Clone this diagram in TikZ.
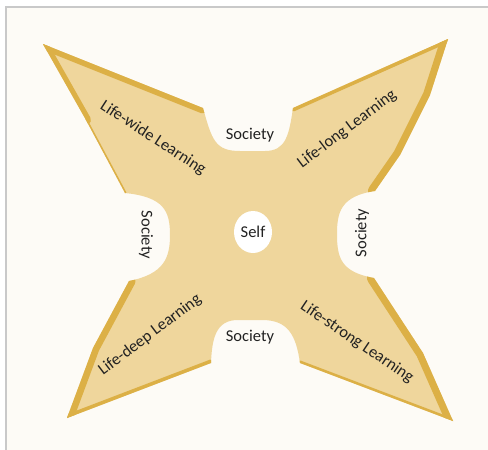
\documentclass[tikz,border=0pt]{standalone}
\usepackage{fontspec}
\setmainfont{Carlito}
\definecolor{cream}{HTML}{FDFBF6}
\definecolor{sand}{HTML}{EFD69C}
\definecolor{gold}{HTML}{DCB046}
\definecolor{rule}{HTML}{C9C9C9}
\definecolor{ink}{HTML}{222222}
% outline of the four-pointed star, in pixel units
\newcommand{\shuriken}{(43,44) -- (203,108)
  .. controls (212,140) and (215,151) .. (240,151) -- (265,151)
  .. controls (286,151) and (289,135) .. (293,108)
  -- (448,39) -- (430,95) -- (400,155) -- (375,191)
  .. controls (341,196) and (337,212) .. (337,234)
  .. controls (337,258) and (341,272) .. (374,278)
  -- (423,353) -- (453,421) -- (300,363)
  .. controls (296,335) and (288,320) .. (262,320) -- (238,320)
  .. controls (216,320) and (212,338) .. (211,363)
  -- (67,418) -- (93,348) -- (129,281)
  .. controls (164,274) and (170,258) .. (170,235)
  .. controls (170,211) and (164,197) .. (125,193)
  -- (86,120) -- cycle}

\begin{document}
\begin{tikzpicture}[x=1pt, y=-1pt,
    every node/.style={font=\fontsize{16.5}{18}\selectfont, text=ink, inner sep=1pt},
    band/.style={gold, line width=#1, line cap=round}]
    \useasboundingbox (0,0) rectangle (488,450);
    \fill[white] (0,0) rectangle (488,450);
    \fill[cream] (6,7) rectangle (488,450);
    \draw[rule, line width=1.2pt] (6,450) -- (6,7) -- (488,7);

    % star body and its bevelled rims
    \fill[sand] \shuriken;
    \begin{scope}
      \clip \shuriken;
      \draw[band=11pt] (43,44) -- (203,108);
      \draw[band=10pt] (43,44) -- (86,120);
      \draw[band=3pt] (86,120) -- (125,193);
      \draw[band=7pt] (293,108) -- (448,39);
      \draw[band=14pt] (448,39) -- (430,95) -- (400,155) -- (375,191);
      \draw[band=14pt] (374,278) -- (423,353) -- (453,421);
      \draw[band=5pt] (453,421) -- (300,363);
      \draw[band=13pt] (129,281) -- (93,348) -- (67,418);
      \draw[band=7pt] (67,418) -- (211,363);
    \end{scope}

    % hole in the middle
    \fill[white] (253,232) ellipse [x radius=19, y radius=21];
    \node (self) at (253,232) {Self};

    \node (socTop) at (250,135) {Society};
    \node (socBottom) at (250,337) {Society};
    \node[rotate=-90] (socLeft) at (146,235) {Society};
    \node[rotate=90] (socRight) at (362,233) {Society};

    \node[rotate=-33] (wide) at (153,138) {Life-wide Learning};
    \node[rotate=37] (long) at (347,129) {Life-long Learning};
    \node[rotate=37] (deep) at (150,335) {Life-deep Learning};
    \node[rotate=-34] (strong) at (357,342) {Life-strong Learning};
  \end{tikzpicture}
\end{document}
